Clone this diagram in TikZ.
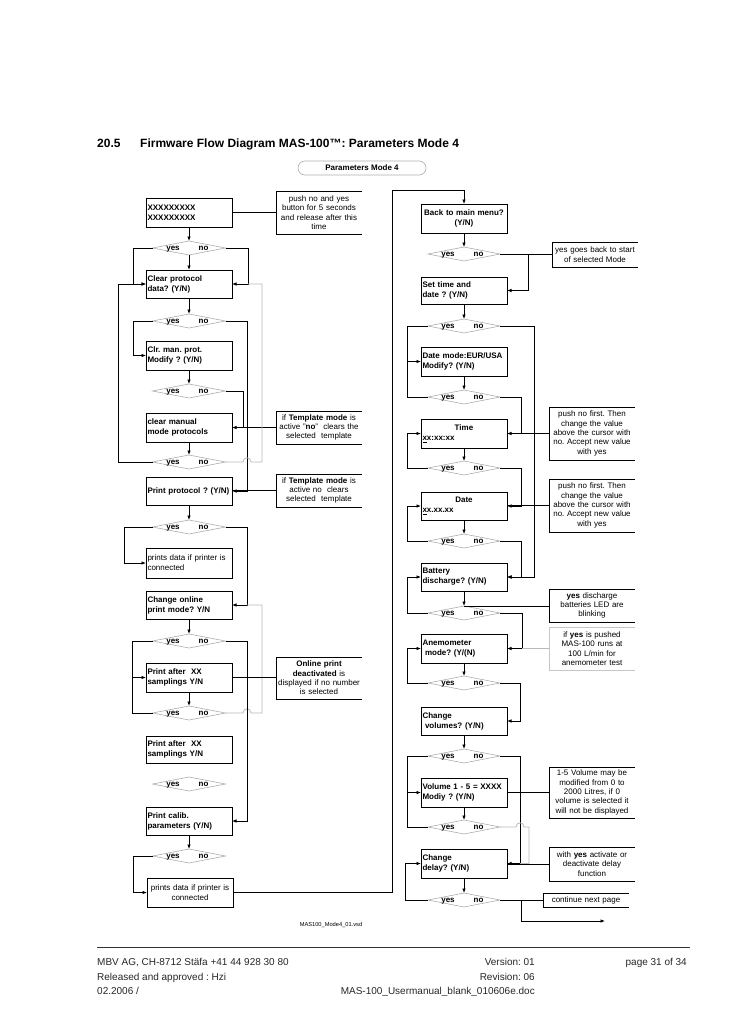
\documentclass[tikz,border=0pt]{standalone}
\usepackage{fontspec}
\setmainfont{Liberation Sans}
\usetikzlibrary{shapes.geometric,arrows.meta,calc}
\frenchspacing

\newcommand\ynd[4]{%
  \node[dmd,minimum width=#4] (#1) at (#2,#3) {};
  \node[dlab] (#1y) at ([xshift=-16pt,yshift=-2.1pt]#1.center) {yes};
  \node[dlab] (#1n) at ([xshift=14.5pt,yshift=-2.1pt]#1.center) {no};}
\newcommand\nt[5][black]{%
  \node[notetext,minimum height=#4] (#2) at (#3) {#5};
  \draw[line width=0.8pt,#1] (#2.north east) -- (#2.north west) -- (#2.south west) -- (#2.south east);}

\begin{document}
\begin{tikzpicture}[x=1pt,y=-1pt,
  box/.style={draw,line width=0.8pt,inner xsep=1.5pt,inner ysep=0pt,text width=83pt,
    align=left,font=\bfseries\fontsize{8}{10}\selectfont,outer sep=0pt},
  dmd/.style={diamond,draw=gray!65,line width=0.6pt,minimum height=14,inner sep=0pt,outer sep=0pt},
  dlab/.style={anchor=base,inner sep=0pt,font=\bfseries\fontsize{8}{8}\selectfont},
  notetext/.style={inner xsep=1pt,inner ysep=0pt,text width=84pt,align=center,
    font=\fontsize{8}{9.4}\selectfont,outer sep=0pt},
  ln/.style={line width=0.8pt},
  arr/.style={line width=0.8pt,-{Latex[length=4.5pt,width=3.6pt]}},
  gl/.style={line width=0.8pt,gray!55}]
\useasboundingbox (0,0) rectangle (728,1030);

% header
\node[anchor=base west,inner sep=0pt,font=\bfseries\fontsize{12}{14}\selectfont] (sec) at (97,147) {20.5};
\node[anchor=base west,inner sep=0pt,font=\bfseries\fontsize{12}{14}\selectfont] (title) at (140,147) {Firmware Flow Diagram MAS-100™: Parameters Mode 4};
\node[draw=gray!65,line width=0.6pt,rounded corners=7pt,minimum width=128,minimum height=14,inner sep=0pt,
  font=\bfseries\fontsize{8}{9}\selectfont] (pm4) at (362,168) {Parameters Mode 4};

% left column boxes
\node[box,minimum height=29] (b1) at (189,212.5) {XXXXXXXXX\\XXXXXXXXX};
\node[box,minimum height=28] (b2) at (189,284) {Clear protocol\\data? (Y/N)};
\node[box,minimum height=29] (b3) at (189,355.5) {Clr. man. prot.\\Modify ? (Y/N)};
\node[box,minimum height=29] (b4) at (189,427.5) {clear manual\\mode protocols};
\node[box,minimum height=28] (b5) at (189,491) {Print protocol ? (Y/N)};
\node[box,minimum height=30,font=\fontsize{8}{10}\selectfont] (b6) at (189,563) {prints data if printer is\\connected};
\node[box,minimum height=28] (b7) at (189,605) {Change online\\print mode? Y/N};
\node[box,minimum height=29] (b8) at (189,677.5) {Print after\ \ XX\\samplings Y/N};
\node[box,minimum height=27] (b9) at (189,749.5) {Print after\ \ XX\\samplings Y/N};
\node[box,minimum height=28] (b10) at (189,821) {Print calib.\\parameters (Y/N)};
\node[box,minimum height=29,align=center,font=\fontsize{8}{10}\selectfont] (b11) at (190,892.5) {prints data if printer is\\connected};

% right column boxes
\node[box,minimum height=29,align=center] (r1) at (464,218.5) {Back to main menu?\\(Y/N)};
\node[box,minimum height=27] (r2) at (464,290.5) {Set time and\\date ? (Y/N)};
\node[box,minimum height=29] (r3) at (464,361.5) {Date mode:EUR/USA\\Modify? (Y/N)};
\node[box,minimum height=29] (r4) at (464,433.5) {\makebox[83pt][c]{Time}\\\underline{x}x:xx:xx};
\node[box,minimum height=28] (r5) at (464,506) {\makebox[83pt][c]{Date}\\\underline{x}x.xx.xx};
\node[box,minimum height=28] (r6) at (464,577) {Battery\\discharge? (Y/N)};
\node[box,minimum height=29] (r7) at (464,648.5) {Anemometer\\\hspace*{2.5pt}mode? (Y/(N)};
\node[box,minimum height=28] (r8) at (464,721) {Change\\\hspace*{2.5pt}volumes? (Y/N)};
\node[box,minimum height=29] (r9) at (464,792.5) {Volume 1 - 5 = XXXX\\Modiy ? (Y/N)};
\node[box,minimum height=29] (r10) at (464,863.5) {Change\\delay? (Y/N)};

% decisions
\ynd{d1}{189}{248}{73}
\ynd{d2}{189}{321}{73}
\ynd{d3}{189}{391}{73}
\ynd{d4}{189}{462}{73}
\ynd{d5}{189}{527}{73}
\ynd{d6}{189}{641}{73}
\ynd{d7}{189}{713}{73}
\ynd{d8}{189}{784}{73}
\ynd{d9}{189}{856}{73}
\ynd{dr1}{464}{254}{72}
\ynd{dr2}{464}{326}{72}
\ynd{dr3}{464}{397}{72}
\ynd{dr4}{464}{468}{72}
\ynd{dr5}{464}{541}{72}
\ynd{dr6}{464}{613}{72}
\ynd{dr7}{464}{683}{72}
\ynd{dr8}{464}{756}{72}
\ynd{dr9}{464}{827}{72}
\ynd{dr10}{464}{900}{72}

% notes
\nt{n1}{319,212.5}{43}{push no and yes\\button for 5 seconds\\and release after this\\time}
\nt{n2}{319,427.5}{33}{if \textbf{Template mode} is\\active "\textbf{no}"\ \ clears the\\selected\ \ template}
\nt{n3}{319,490.5}{33}{if \textbf{Template mode} is\\active no\ \ clears\\selected\ \ template}
\nt{n4}{319,678}{42}{\textbf{Online print}\\\textbf{deactivated} is\\displayed if no number\\is selected}
\nt{n5}{595,254.5}{25}{yes goes back to start\\of selected Mode}
\nt{n6}{592,433.5}{53}{push no first. Then\\change the value\\above the cursor with\\no. Accept new value\\with yes}
\nt{n7}{592,505.5}{53}{push no first. Then\\change the value\\above the cursor with\\no. Accept new value\\with yes}
\nt{n8}{592,605.5}{33}{\textbf{yes} discharge\\batteries LED are\\blinking}
\nt[gray!45]{n9}{592,648.5}{43}{if \textbf{yes} is pushed\\MAS-100 runs at\\100 L/min for\\anemometer test}
\nt{n10}{592,792.5}{51}{1-5 Volume may be\\modified from 0 to\\2000 Litres, if 0\\volume is selected it\\will not be displayed}
\nt{n11}{592,864}{34}{with \textbf{yes} activate or\\deactivate delay\\function}
\nt{n12}{586,900}{14}{continue next page}

% left connectors
\draw[ln] (b1.east) -- (n1.west);
\draw[arr] (b1.south) -- (d1.north);
\draw[arr] (d1.south) -- (b2.north);
\draw[arr] (d1.west) -| ([xshift=-13pt]b2.west) -- (b2.west);
\draw[arr] (d1.east) -| ([xshift=16pt]b2.east) -- (b2.east);
\draw[arr] (b2.south) -- (d2.north);
\draw[arr] (d2.west) -| ([xshift=-13pt]b3.west) -- (b3.west);
\draw[arr] (d2.east) -| ([xshift=15pt]b5.east) -- (b5.east);
\draw[arr] (b3.south) -- (d3.north);
\draw[arr] (d3.east) -| ([xshift=11pt]b4.east) -- (b4.east);
\draw[ln] (n2.west) -- (n2.west -| b4.east);
\draw[arr] (b4.south) -- (d4.north);
\draw[arr] (d4.west) -| ([xshift=-28pt]b2.west) -- (b2.west);
\draw[gl] (d4.east) -- (243,462) .. controls (243,456.5) and (251,456.5) .. (251,462) -- (262,462) |- ([xshift=16pt]b2.east);
\draw[arr] (b5.south) -- (d5.north);
\draw[ln] (n3.west) -- (n3.west -| b5.east);
\draw[arr] (d5.west) -| ([xshift=-22pt]b6.west) -- (b6.west);
\draw[arr] (d5.east) -| ([xshift=15pt]b7.east) -- (b7.east);
\draw[gl] (d7.east) -- (243,713) .. controls (243,707.5) and (251,707.5) .. (251,713) -- (262,713) |- ([xshift=15pt]b7.east);
\draw[arr] (b7.south) -- (d6.north);
\draw[arr] (d6.west) -| ([xshift=-14pt]b8.west) -- (b8.west);
\draw[arr] (d6.east) -| ([xshift=15pt]b10.east) -- (b10.east);
\draw[ln] (b8.east) -- (b8.east -| n4.west);
\draw[arr] (b8.south) -- (d7.north);
\draw[ln] (d7.west) -| ([xshift=-14pt]b8.west);
\draw[arr] (b10.south) -- (d9.north);
\draw[arr] (d9.west) -| ([xshift=-14pt]b11.west) -- (b11.west);
\draw[arr] (b11.east) -- ([xshift=159pt]b11.east) |- ([yshift=14pt]r1.north) -- (r1.north);

% right connectors
\draw[arr] (r1.south) -- (dr1.north);
\draw[ln] (dr1.east) -- (dr1.east -| n5.west);
\draw[arr] ([xshift=28pt]dr1.east) |- (r2.east);
\draw[arr] (r2.south) -- (dr2.north);
\draw[arr] (dr2.west) -| ([xshift=-14pt]r3.west) -- (r3.west);
\draw[arr] (dr2.east) -| ([xshift=27pt]r6.east) -- (r6.east);
\draw[arr] (r3.south) -- (dr3.north);
\draw[ln] (dr3.west) -| ([xshift=-14pt]r3.west);
\draw[arr] (dr3.east) -| ([xshift=14pt]r4.east) -- (r4.east);
\draw[ln] (n6.west) -- (n6.west -| r4.east);
\draw[arr] (r4.south) -- (dr4.north);
\draw[arr] (dr4.west) -| ([xshift=-14pt]r4.west) -- (r4.west);
\draw[arr] (dr4.east) -| ([xshift=14pt]r5.east) -- (r5.east);
\draw[ln] (n7.west) -- (n7.west -| r5.east);
\draw[arr] (r5.south) -- (dr5.north);
\draw[arr] (dr5.west) -| ([xshift=-14pt]r5.west) -- (r5.west);
\draw[arr] (dr5.east) -| ([xshift=14pt]r6.east) -- (r6.east);
\draw[arr] (r6.south) -- (dr6.north);
\draw[ln] (dr6.north) -- (dr6.north -| n8.west);
\draw[arr] (dr6.west) -| ([xshift=-14pt]r6.west) -- (r6.west);
\draw[arr] (dr6.east) -| ([xshift=15pt]r7.east) -- (r7.east);
\draw[gl] (n9.west) -- ([xshift=15pt]r7.east);
\draw[arr] (r7.south) -- (dr7.north);
\draw[arr] (dr7.west) -| ([xshift=-14pt]r7.west) -- (r7.west);
\draw[arr] (dr7.east) -| ([xshift=13pt]r8.east) -- (r8.east);
\draw[arr] (r8.south) -- (dr8.north);
\draw[arr] (dr8.west) -| ([xshift=-14pt]r9.west) -- (r9.west);
\draw[arr] (dr8.east) -| ([xshift=13pt]r10.east) -- (r10.east);
\draw[ln] (r9.east) -- (r9.east -| n10.west);
\draw[arr] (r9.south) -- (dr9.north);
\draw[ln] (dr9.west) -| ([xshift=-14pt]r9.west);
\draw[gl] (dr9.east) -- (516,827) .. controls (516,821.5) and (524,821.5) .. (524,827) -- (529,827) |- ([xshift=13pt]r10.east);
\draw[ln] (n11.west) -- (n11.west -| r10.east);
\draw[arr] (r10.south) -- (dr10.north);
\draw[arr] (dr10.west) -| ([xshift=-16pt]r10.west) -- (r10.west);
\draw[ln] (dr10.east) -- (dr10.east -| n12.west);
\coordinate (cont) at (605,921);
\draw[arr] ([xshift=21pt]dr10.east) |- (cont);

\node[inner sep=0pt,font=\fontsize{5.7}{7}\selectfont] (vsd) at (331,925) {MAS100\_Mode4\_01.vsd};

% footer
\draw[line width=0.8pt,black!80] (97,947.4) -- (690,947.4);
\begin{scope}[every node/.style={inner sep=0pt,font=\fontsize{10}{12}\selectfont,text=black!85}]
\node[anchor=base west] (f1) at (97,965) {MBV AG, CH-8712 Stäfa +41 44 928 30 80};
\node[anchor=base west] (f2) at (97,980) {Released and approved : Hzi};
\node[anchor=base west] (f3) at (97,994) {02.2006 /};
\node[anchor=base east] (f4) at (535,965) {Version: 01};
\node[anchor=base east] (f5) at (535,980) {Revision: 06};
\node[anchor=base east] (f6) at (535,994) {MAS-100\_Usermanual\_blank\_010606e.doc};
\node[anchor=base east] (f7) at (687,965) {page 31 of 34};
\end{scope}
\end{tikzpicture}
\end{document}
